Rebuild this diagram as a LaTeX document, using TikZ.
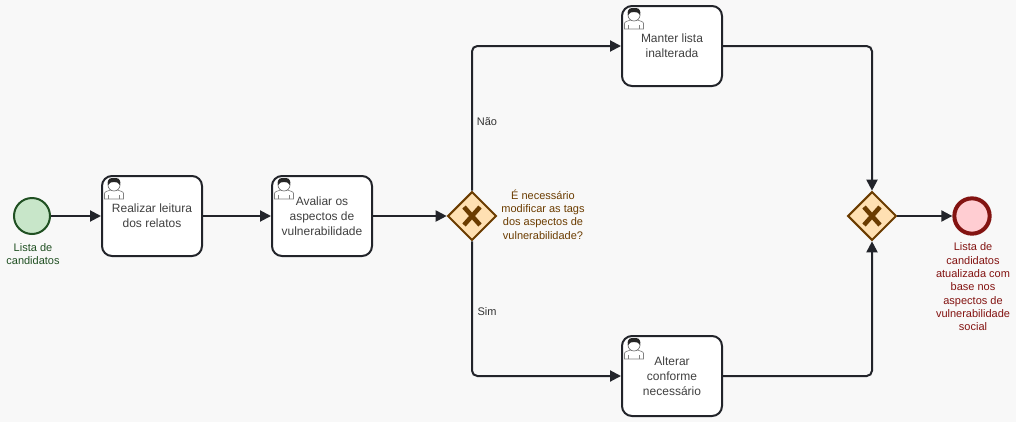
\documentclass[tikz,border=0pt]{standalone}
\usepackage{fontspec}
\setmainfont{Liberation Sans}
\usetikzlibrary{arrows.meta}
\usetikzlibrary{shapes.geometric}

\definecolor{inkline}{HTML}{22242A}
\definecolor{pagebg}{HTML}{F8F8F8}
\definecolor{greenline}{HTML}{205022}
\definecolor{greenfill}{HTML}{C8E6C9}
\definecolor{orangeline}{HTML}{6B3C00}
\definecolor{orangefill}{HTML}{FFE0B2}
\definecolor{redline}{HTML}{831311}
\definecolor{redfill}{HTML}{FFCDD2}

\tikzset{
	task/.style={rectangle,draw=inkline,fill=white,line width=1.5pt,rounded corners=7.5pt,minimum width=75pt,minimum height=60pt,inner sep=1pt,align=center,font=\fontsize{9}{11.25}\selectfont,text=black!75},
	gate/.style={diamond,draw=orangeline,fill=orangefill,line width=1.5pt,minimum width=36.5pt,minimum height=36.5pt,inner sep=0pt},
	flow/.style={draw=inkline,line width=1.5pt,rounded corners=4pt,-{Triangle[length=8.25pt,width=8.25pt]}},
	note/.style={align=center,inner sep=0pt,font=\fontsize{8.25}{10}\selectfont},
	usericon/.pic={
		\draw [fill=white,draw=black!50,line width=0.5pt] (3.5,24) -- (3.5,18.5) .. controls (3.5,16.5) and (7,16) .. (9.5,15) -- (16.5,15) .. controls (19,16) and (22.5,16.5) .. (22.5,18.5) -- (22.5,24) -- cycle;
		\draw [draw=black!50,line width=0.5pt] (7.5,24) -- (7.5,19.5) (18.5,24) -- (18.5,19.5);
		\draw [fill=white,draw=black!60,line width=0.5pt] (13,10) circle (6);
		\fill [black!85] (7,10) .. controls (5.5,3) and (10,3) .. (13,3) .. controls (16,3) and (20.5,3) .. (19,10) .. controls (18,7.5) and (15.5,7) .. (13,7) .. controls (10.5,7) and (8,7.5) .. (7,10) -- cycle;
	},
	gatemark/.pic={
		\draw [draw=orangeline,line width=3.4pt] (-8,-9) -- (8,9) (-8,9) -- (8,-9);
	}
}

\begin{document}
\begin{tikzpicture}[x=0.75pt,y=-0.75pt]
	\fill [pagebg] (0,0) rectangle (1016,422);
	\useasboundingbox (0,0) rectangle (1016,422);

	\node (S1) at (32,216) [circle,draw=greenline,fill=greenfill,line width=1.5pt,minimum size=27pt,inner sep=0pt] {};
	\node (T1) at (152,216) [task] {Realizar leitura\\dos relatos};
	\node (T2) at (322,216) [task] {Avaliar os\\aspectos de\\vulnerabilidade};
	\node (G1) at (472,216) [gate] {};
	\node (T3) at (672,46) [task] {Manter lista\\inalterada};
	\node (T4) at (672,376) [task] {Alterar\\conforme\\necessário};
	\node (G2) at (872,216) [gate] {};
	\node (E1) at (972,216) [circle,draw=redline,fill=redfill,line width=3pt,minimum size=26.5pt,inner sep=0pt] {};

	\pic at (T1.north west) {usericon};
	\pic at (T2.north west) {usericon};
	\pic at (T3.north west) {usericon};
	\pic at (T4.north west) {usericon};
	\pic at (G1) {gatemark};
	\pic at (G2) {gatemark};

	\node (L1) at (33,254) [note,text=greenline] {Lista de\\candidatos};
	\node (L2) at (543,214.5) [note,text=orangeline] {É necessário\\modificar as tags\\dos aspectos de\\vulnerabilidade?};
	\node (L3) at (973,287) [note,text=redline] {Lista de\\candidatos\\atualizada com\\base nos\\aspectos de\\vulnerabilidade\\social};
	\node (N1) at (487,121.5) [note,text=black!80] {Não};
	\node (N2) at (487,312) [note,text=black!80] {Sim};

	\draw [flow] (S1) -- (T1);
	\draw [flow] (T1) -- (T2);
	\draw [flow] (T2) -- (G1);
	\draw [flow] (G1) |- (T3);
	\draw [flow] (G1) |- (T4);
	\draw [flow] (T3) -| (G2);
	\draw [flow] (T4) -| (G2);
	\draw [flow] (G2) -- (E1);
\end{tikzpicture}
\end{document}
